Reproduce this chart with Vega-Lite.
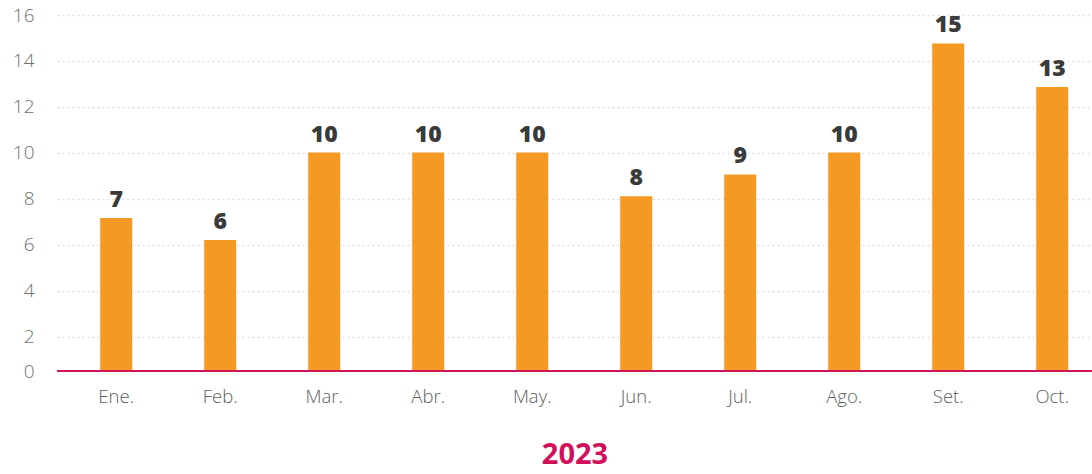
{
  "$schema": "https://vega.github.io/schema/vega-lite/v6.json",
  "autosize": {"type": "none"},
  "width": 1035,
  "height": 356,
  "padding": {"left": 57, "top": 15, "right": 0, "bottom": 103},
  "background": "white",
  "config": {"view": {"stroke": null}},
  "data": {"values": [
    {"mes": "Ene.", "valor": 7},
    {"mes": "Feb.", "valor": 6},
    {"mes": "Mar.", "valor": 10},
    {"mes": "Abr.", "valor": 10},
    {"mes": "May.", "valor": 10},
    {"mes": "Jun.", "valor": 8},
    {"mes": "Jul.", "valor": 9},
    {"mes": "Ago.", "valor": 10},
    {"mes": "Set.", "valor": 15},
    {"mes": "Oct.", "valor": 13}
  ]},
  "layer": [
    {
      "mark": {"type": "rule", "opacity": 0},
      "encoding": {
        "y": {
          "field": "valor", "type": "quantitative",
          "scale": {"domain": [0.52, 16], "nice": false, "zero": false},
          "axis": {
            "values": [0.52, 2, 4, 6, 8, 10, 12, 14, 16],
            "labelExpr": "datum.value < 1 ? '0' : format(datum.value, 'd')",
            "title": null,
            "domain": false,
            "ticks": false,
            "grid": true,
            "gridColor": "#e0e0e0",
            "gridDash": [2, 3],
            "gridWidth": 1.5,
            "labelPadding": 23,
            "labelFont": "Open Sans",
            "labelFontWeight": 300,
            "labelFontSize": 19,
            "labelColor": "#707070"
          }
        }
      }
    },
    {
      "encoding": {
        "x": {
          "field": "mes", "type": "nominal", "sort": null,
          "scale": {"paddingInner": 0.692, "paddingOuter": 0.322, "align": 0.645},
          "axis": {
            "title": "2023",
            "domain": false,
            "ticks": false,
            "labelAngle": 0,
            "labelPadding": 16,
            "labelFont": "Open Sans",
            "labelFontWeight": 300,
            "labelFontSize": 18.5,
            "labelColor": "#606060",
            "titleFont": "Open Sans",
            "titleFontWeight": "bold",
            "titleFontSize": 29,
            "titleColor": "#d0105a",
            "titlePadding": 35
          }
        }
      },
      "layer": [
        {
          "mark": {"type": "bar", "color": "#f39924"},
          "encoding": {
            "y": {
              "field": "valor", "type": "quantitative",
              "scale": {"domain": [0, 16.3], "nice": false},
              "axis": null
            }
          }
        },
        {
          "mark": {"type": "text", "dy": -18, "baseline": "middle", "font": "Open Sans", "fontWeight": 800, "fontSize": 23, "color": "#3a3a3a"},
          "encoding": {
            "y": {"field": "valor", "type": "quantitative"},
            "text": {"field": "valor", "type": "quantitative", "format": "d"}
          }
        },
        {
          "mark": {"type": "rule", "color": "#d4145a", "strokeWidth": 2.2},
          "encoding": {"y": {"datum": 0}, "x": null}
        }
      ]
    }
  ],
  "resolve": {"scale": {"y": "independent"}}
}
